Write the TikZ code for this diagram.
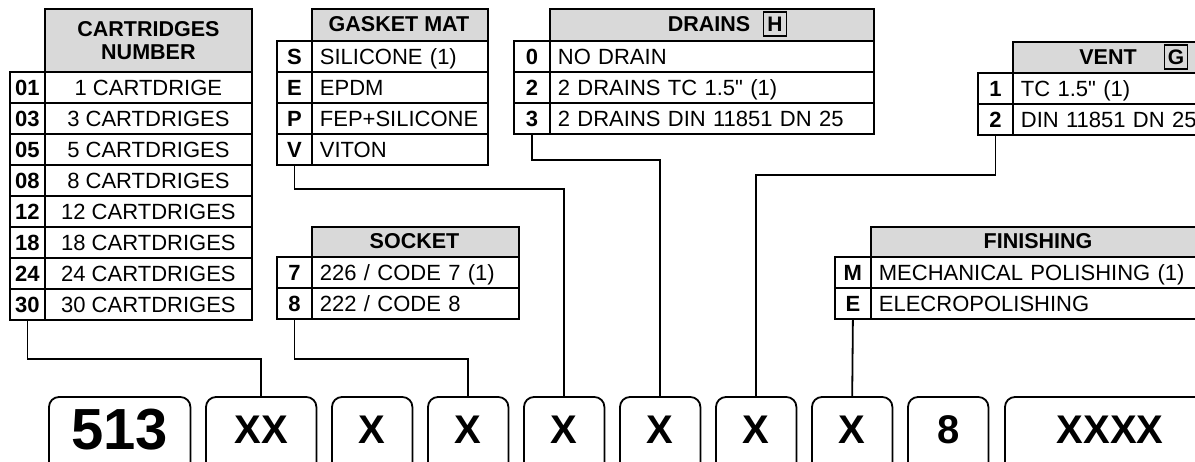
\documentclass[tikz,border=0pt]{standalone}
\usepackage{fontspec}
\setmainfont{Liberation Sans}[Ligatures=TeXOff]
\definecolor{hdrgray}{RGB}{217,217,217}
\newcommand\rowfnt{\fontsize{22}{26}\selectfont}
\newcommand\hdrfnt{\fontsize{21.5}{23}\selectfont\bfseries}
\tikzset{
  tbl/.style={draw, line width=1.8pt, inner sep=0pt, anchor=north west, minimum height=31pt},
  codecell/.style={tbl, font=\rowfnt\bfseries, text height=15.8pt, text depth=0pt},
  desccell/.style={tbl, font=\rowfnt, text height=15.8pt, text depth=0pt},
  descleft/.style={desccell, inner xsep=8pt, align=left},
  hdrcell/.style={tbl, fill=hdrgray},
  hdrtext/.style={font=\hdrfnt, inner sep=0pt, text height=15.4pt, text depth=0pt},
  keybox/.style={draw, line width=1.3pt, inner sep=0pt, minimum width=23pt, minimum height=24pt, font=\fontsize{21}{23}\selectfont\bfseries},
  conn/.style={line width=1.8pt},
  codebox/.style={anchor=north west, inner sep=0pt, minimum height=64pt, font=\fontsize{40}{44}\selectfont\bfseries, text height=28.6pt, text depth=0pt},
  boxline/.style={line width=1.8pt, rounded corners=10pt},
}
\begin{document}
\begin{tikzpicture}[x=1pt,y=-1pt]
\useasboundingbox (0,0) rectangle (1195,461);
\clip (0,0) rectangle (1195,461);

% ---------- CARTRIDGES NUMBER ----------
\node[hdrcell, minimum width=207pt, minimum height=63pt, align=center, font=\hdrfnt] (cth) at (44,8) {CARTRIDGES\\NUMBER};
\foreach \c/\t [count=\i from 0] in {01/1 CARTDRIGE, 03/3 CARTDRIGES, 05/5 CARTDRIGES, 08/8 CARTDRIGES, 12/12 CARTDRIGES, 18/18 CARTDRIGES, 24/24 CARTDRIGES, 30/30 CARTDRIGES}{
  \node[codecell, minimum width=35pt] (c\c) at (9,{71+31*\i}) {\c};
  \node[desccell, minimum width=207pt] (cd\c) at (44,{71+31*\i}) {\t};
}

% ---------- GASKET MAT ----------
\node[hdrcell, minimum width=176pt, minimum height=32pt] (gh) at (311,8) {};
\node[hdrtext] (ght) at (399,24) {GASKET MAT};
\foreach \c/\t [count=\i from 0] in {S/SILICONE (1), E/EPDM, P/FEP+SILICONE, V/VITON}{
  \node[codecell, minimum width=35pt] (g\c) at (276,{40+31*\i}) {\c};
  \node[descleft, text width=160pt] (gd\c) at (311,{40+31*\i}) {\t};
}

% ---------- DRAINS ----------
\node[hdrcell, minimum width=324pt, minimum height=32pt] (dh) at (549,8) {};
\node[hdrtext] (dht) at (709,24) {DRAINS};
\node[keybox] (hkey) at (775,24) {H};
\foreach \c/\t [count=\i from 0] in {0/{NO DRAIN}, 2/{2 DRAINS TC 1.5" (1)}, 3/{2 DRAINS DIN 11851 DN 25}}{
  \node[codecell, minimum width=36pt] (d\c) at (513,{40+31*\i}) {\c};
  \node[descleft, text width=308pt] (dd\c) at (549,{40+31*\i}) {\t};
}

% ---------- VENT ----------
\node[hdrcell, minimum width=210pt, minimum height=31pt] (vh) at (1012,41) {};
\node[hdrtext] (vht) at (1108,57) {VENT};
\node[keybox] (gkey) at (1176,57) {G};
\foreach \c/\t [count=\i from 0] in {1/{TC 1.5" (1)}, 2/{DIN 11851 DN 25}}{
  \node[codecell, minimum width=35pt] (v\c) at (977,{72+31*\i}) {\c};
  \node[descleft, text width=194pt] (vd\c) at (1012,{72+31*\i}) {\t};
}

% ---------- SOCKET ----------
\node[hdrcell, minimum width=207pt, minimum height=30pt] (sh) at (311,226) {};
\node[hdrtext] (sht) at (414.5,241) {SOCKET};
\foreach \c/\t [count=\i from 0] in {7/{226 / CODE 7 (1)}, 8/{222 / CODE 8}}{
  \node[codecell, minimum width=35pt] (s\c) at (276,{256+31*\i}) {\c};
  \node[descleft, text width=191pt] (sd\c) at (311,{256+31*\i}) {\t};
}

% ---------- FINISHING ----------
\node[hdrcell, minimum width=336pt, minimum height=30pt] (fh) at (870,226) {};
\node[hdrtext] (fht) at (1038,241) {FINISHING};
\foreach \c/\t [count=\i from 0] in {M/{MECHANICAL POLISHING (1)}, E/{ELECROPOLISHING}}{
  \node[codecell, minimum width=36pt] (f\c) at (834,{256+31*\i}) {\c};
  \node[descleft, text width=320pt] (fd\c) at (870,{256+31*\i}) {\t};
}

% ---------- CODE BOXES ----------
\node[codebox, minimum width=141pt, font=\fontsize{58}{62}\selectfont\bfseries, text height=41.5pt] (b1) at (49,397) {513};
\node[codebox, minimum width=110pt] (b2) at (206,397) {XX};
\node[codebox, minimum width=80pt] (b3) at (332,397) {X};
\node[codebox, minimum width=80pt] (b4) at (428,397) {X};
\node[codebox, minimum width=80pt] (b5) at (524,397) {X};
\node[codebox, minimum width=80pt] (b6) at (620,397) {X};
\node[codebox, minimum width=80pt] (b7) at (716,397) {X};
\node[codebox, minimum width=80pt] (b8) at (812,397) {X};
\node[codebox, minimum width=80pt] (b9) at (908,397) {8};
\node[codebox, minimum width=210pt] (b10) at (1005,397) {XXXX};
\foreach \b in {b1,b2,b3,b4,b5,b6,b7,b8,b9,b10}{
  \draw[boxline] ([yshift=-4pt]\b.south west) -- (\b.north west) -- (\b.north east) -- ([yshift=-4pt]\b.south east);
}

% ---------- CONNECTORS ----------
\draw[conn] (c30.south) -- ++(0,38) -| (b2.north);
\draw[conn] (s8.south) -- ++(0,39) -| (b4.north);
\draw[conn] (gV.south) -- ++(0,23) -| (b5.north);
\draw[conn] (d3.south) -- ++(0,25) -| (b6.north);
\draw[conn] (v2.south) -- ++(0,39) -| (b7.north);
\draw[conn] (fE.south) -- (b8.north);
\end{tikzpicture}
\end{document}
